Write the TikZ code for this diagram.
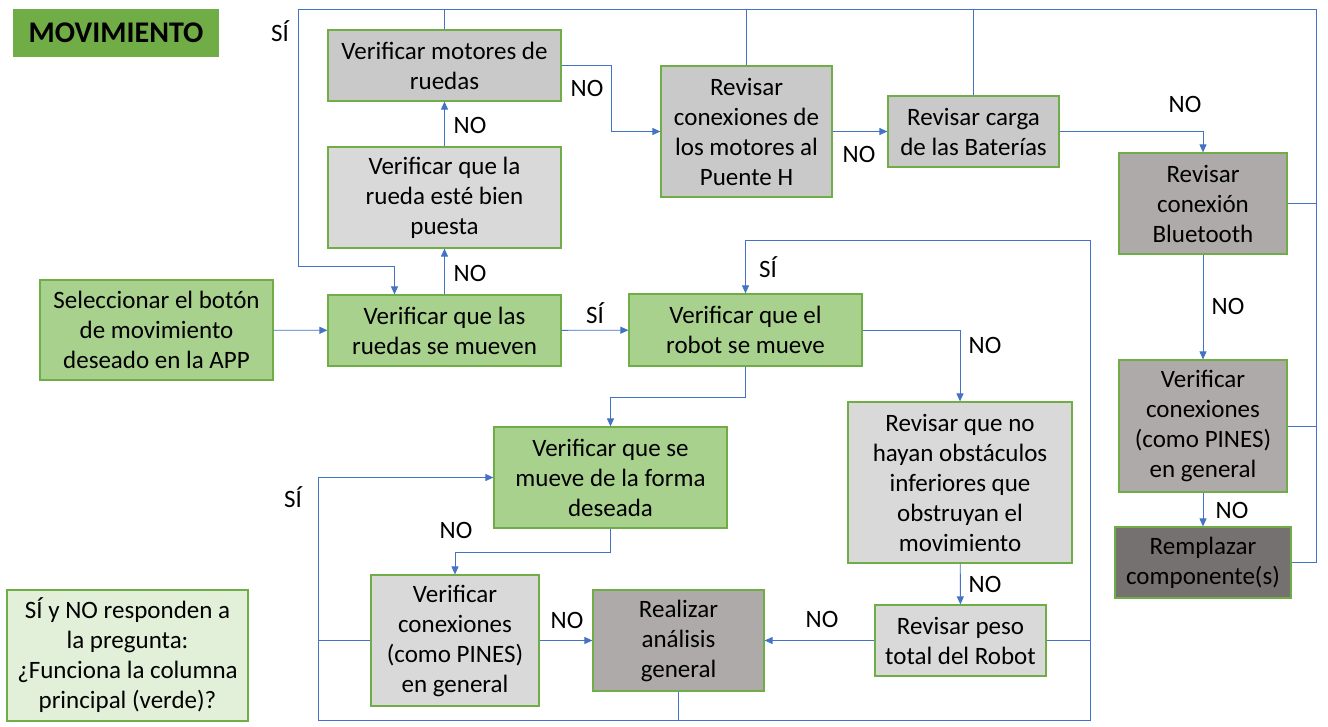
\documentclass[tikz,border=0pt]{standalone}
\usepackage{fontspec}
\setmainfont{Carlito}
\definecolor{linkblue}{RGB}{68, 114, 196}
\definecolor{edgegreen}{RGB}{112, 173, 71}
\definecolor{stepgreen}{RGB}{169, 209, 142}
\definecolor{gray1}{RGB}{201, 201, 201}
\definecolor{gray2}{RGB}{217, 217, 217}
\definecolor{gray3}{RGB}{174, 170, 170}
\definecolor{gray4}{RGB}{118, 113, 113}
\definecolor{notegreen}{RGB}{226, 240, 217}
\usetikzlibrary{arrows.meta}

\begin{document}
\begin{tikzpicture}[x=1pt, y=-1pt,
  block/.style={draw=edgegreen, fill=#1, line width=1.2pt, inner sep=0pt, align=center, font=\fontsize{25}{30}\selectfont},
  arr/.style={draw=linkblue, line width=0.9pt, -{Triangle[length=8pt, width=7pt]}},
  link/.style={draw=linkblue, line width=0.9pt},
  lbl/.style={font=\fontsize{25}{30}\selectfont},
]
  \fill[white] (0,0) rectangle (1328,726);
  \useasboundingbox (0,0) rectangle (1328,726);

  % Title and note
  \node[fill=edgegreen, minimum width=206pt, minimum height=48pt, font=\fontsize{30}{30}\selectfont\bfseries] (title) at (116,33) {MOVIMIENTO};
  \node[block=notegreen, minimum width=241pt, minimum height=131pt] (note) at (127.5,655.5) {SÍ y NO responden a\\la pregunta:\\¿Funciona la columna\\principal (verde)?};

  % Main column
  \node[block=stepgreen, minimum width=233pt, minimum height=100pt] (sel) at (156.5,330) {Seleccionar el botón\\de movimiento\\deseado en la APP};
  \node[block=stepgreen, minimum width=233pt, minimum height=71pt] (ruedas) at (444.5,330.5) {Verificar que las\\ruedas se mueven};
  \node[block=stepgreen, minimum width=233pt, minimum height=72pt] (robot) at (745.5,330) {Verificar que el\\robot se mueve};
  \node[block=stepgreen, minimum width=233pt, minimum height=101pt] (forma) at (610.5,477.5) {Verificar que se\\mueve de la forma\\deseada};

  % Wheel checks
  \node[block=gray2, minimum width=233pt, minimum height=101pt] (rueda) at (444.5,197.5) {Verificar que la\\rueda esté bien\\puesta};
  \node[block=gray1, minimum width=233pt, minimum height=71pt] (mot) at (444.5,65.5) {Verificar motores de\\ruedas};
  \node[block=gray1, minimum width=171pt, minimum height=131pt] (con) at (746.5,131.5) {Revisar\\conexiones de\\los motores al\\Puente H};
  \node[block=gray1, minimum width=171pt, minimum height=71pt] (bat) at (973.5,131.5) {Revisar carga\\de las Baterías};
  \node[block=gray3, minimum width=168pt, minimum height=101pt] (bt) at (1203,203.5) {Revisar\\conexión\\Bluetooth};
  \node[block=gray3, minimum width=168pt, minimum height=132pt] (pines2) at (1203,426) {Verificar\\conexiones\\(como PINES)\\en general};
  \node[block=gray4, minimum width=176pt, minimum height=71pt] (rempl) at (1203,562.5) {Remplazar\\componente(s)};

  % Robot checks
  \node[block=gray2, minimum width=224pt, minimum height=161pt] (obst) at (960,482.5) {Revisar que no\\hayan obstáculos\\inferiores que\\obstruyan el\\movimiento};
  \node[block=gray2, minimum width=171pt, minimum height=71pt] (peso) at (960.5,640.5) {Revisar peso\\total del Robot};
  \node[block=gray2, minimum width=168pt, minimum height=131pt] (pines1) at (455,640.5) {Verificar\\conexiones\\(como PINES)\\en general};
  \node[block=gray3, minimum width=171pt, minimum height=101pt] (anal) at (678.5,640.5) {Realizar\\análisis\\general};

  % Bends of the return lines
  \coordinate (tl) at (298,9);
  \coordinate (tr) at (1316,9);
  \coordinate (ll) at (298,266);
  \coordinate (m1) at (611,100);
  \coordinate (bl) at (318,720);
  \coordinate (br) at (1090,720);
  \coordinate (rt) at (1090,240);

  % Main flow
  \draw[arr] (sel) -- (ruedas);
  \draw[arr] (ruedas) -- (robot);
  \draw[arr] (ruedas) -- (rueda);
  \draw[arr] (rueda) -- (mot);
  \draw[arr] (mot.east) -- (mot.east -| m1) |- (con.west);
  \draw[arr] (con) -- (bat);
  \draw[arr] (bat.east) -| (bt.north);
  \draw[arr] (bt) -- (pines2);
  \draw[arr] (pines2) -- (rempl);
  \draw[arr] (robot.east) -| (obst.north);
  \draw[arr] (obst) -- (peso);
  \draw[arr] (peso) -- (anal);
  \draw[arr] (pines1) -- (anal);
  \draw[arr] (robot.south) -- ++(0,31) -| (forma.north);
  \draw[arr] (forma.south) -- ++(0,24) -| (pines1.north);

  % Return to the wheels (top)
  \draw[link] (mot.north) -- (mot.north |- tl);
  \draw[link] (con.north) -- (con.north |- tl);
  \draw[link] (bat.north) -- (bat.north |- tl);
  \draw[link] (bt.east) -- (bt.east -| tr);
  \draw[link] (pines2.east) -- (pines2.east -| tr);
  \draw[arr] (rempl.east) -| (tr) -- (tl) -- (ll) -| ([xshift=-50pt]ruedas.north);

  % Return to the robot (bottom)
  \draw[link] (pines1.west) -- (pines1.west -| bl);
  \draw[link] (peso.east) -- (peso.east -| br);
  \draw[arr] (anal.south) -- (anal.south |- bl) -- (bl) |- (forma.west);
  \draw[arr] (anal.south |- bl) -- (br) -- (rt) -| (robot.north);

  % Labels
  \node[lbl] (s1) at (280,31) {SÍ};
  \node[lbl] (s2) at (595,313) {SÍ};
  \node[lbl] (s3) at (768,267) {SÍ};
  \node[lbl] (s4) at (293,497) {SÍ};
  \node[lbl] (n1) at (470,273) {NO};
  \node[lbl] (n2) at (470,125) {NO};
  \node[lbl] (n3) at (587,88) {NO};
  \node[lbl] (n4) at (859,154) {NO};
  \node[lbl] (n5) at (1185,104) {NO};
  \node[lbl] (n6) at (1228,306) {NO};
  \node[lbl] (n7) at (1232,510) {NO};
  \node[lbl] (n8) at (985,345) {NO};
  \node[lbl] (n9) at (985,584) {NO};
  \node[lbl] (n10) at (822,619) {NO};
  \node[lbl] (n11) at (567,620) {NO};
  \node[lbl] (n12) at (456,530) {NO};
\end{tikzpicture}
\end{document}
